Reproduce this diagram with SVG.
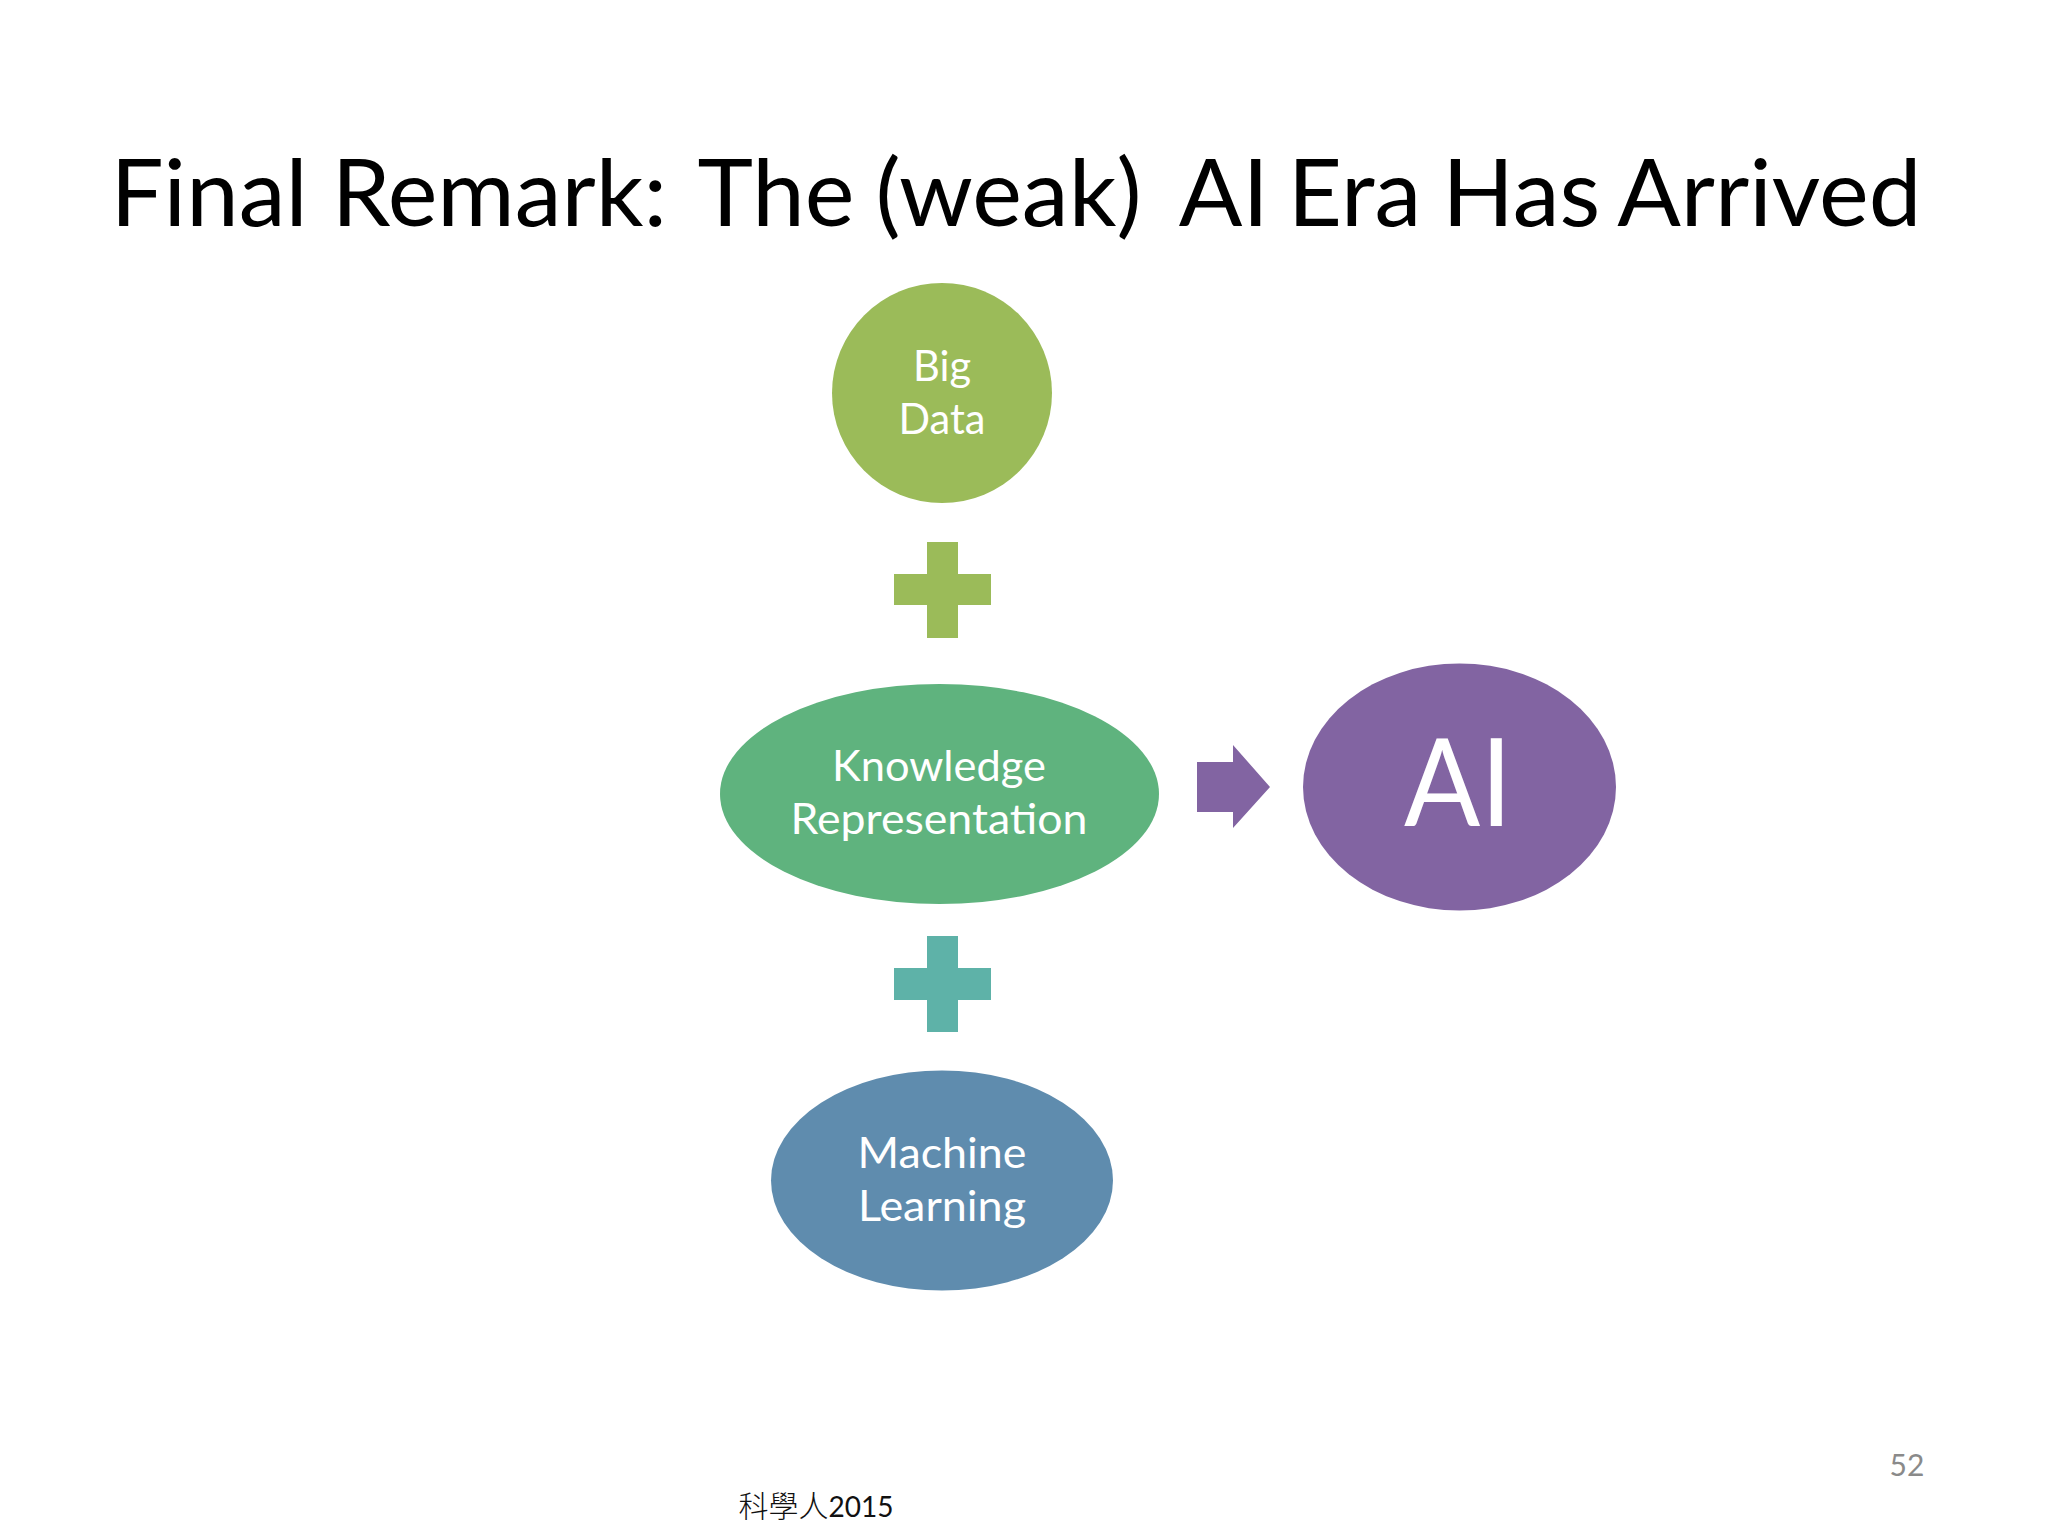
<svg xmlns="http://www.w3.org/2000/svg" width="2048" height="1536" viewBox="0 0 2048 1536">
<style>
text{font-family:"Lato","Open Sans","Liberation Sans",sans-serif;text-anchor:middle}
.l{fill:#fff;font-size:42px}
</style>
<rect width="2048" height="1536" fill="#fff"/>
<text x="1016" y="226" font-size="93" fill="#000" textLength="1811" lengthAdjust="spacingAndGlyphs">Final Remark: <tspan dx="9">The</tspan> <tspan dx="-3">(weak)</tspan> <tspan dx="16">AI</tspan> <tspan dx="-5">Era</tspan> <tspan dx="-3">Has</tspan> <tspan dx="-4">Arrived</tspan></text>
<g id="big-data"><circle cx="942" cy="393" r="110" fill="#9bbb59"/><text class="l" x="942" y="381" textLength="58" lengthAdjust="spacingAndGlyphs">Big</text><text class="l" x="942" y="434" textLength="87" lengthAdjust="spacingAndGlyphs">Data</text></g>
<g id="plus1"><path d="M927 542h31v32h33v31h-33v33h-31v-33h-33v-31h33z" fill="#9bbb59"/></g>
<g id="knowledge"><ellipse cx="939.500" cy="794" rx="219.500" ry="110" fill="#5fb37e"/><text class="l" x="939" y="781" textLength="214" lengthAdjust="spacingAndGlyphs">Knowledge</text><text class="l" x="939" y="834" textLength="297" lengthAdjust="spacingAndGlyphs">Representation</text></g>
<g id="plus2"><path d="M927 936h31v32h33v32h-33v32h-31v-32h-33v-32h33z" fill="#5eb2a8"/></g>
<g id="ml"><ellipse cx="942" cy="1180.500" rx="171" ry="110" fill="#5f8cae"/><text class="l" x="942" y="1168" textLength="169" lengthAdjust="spacingAndGlyphs">Machine</text><text class="l" x="942" y="1221" textLength="168" lengthAdjust="spacingAndGlyphs">Learning</text></g>
<g id="connectors"><path d="M1197 762h36v-17l37 42-37 41v-16h-36z" fill="#8264a2"/></g>
<g id="ai"><ellipse cx="1459.500" cy="787" rx="156.500" ry="123.500" fill="#8264a2"/><text x="1458" y="826" font-size="122" fill="#fff" textLength="108" lengthAdjust="spacingAndGlyphs">AI</text></g>
<text x="1907" y="1476" font-size="30" fill="#8a8a8a">52</text>
<text x="816" y="1517" fill="#111" style="font-size:30px"><tspan style="font-family:'Noto Sans CJK TC',sans-serif;font-weight:300">科學人</tspan><tspan font-size="28">2015</tspan></text>
</svg>
